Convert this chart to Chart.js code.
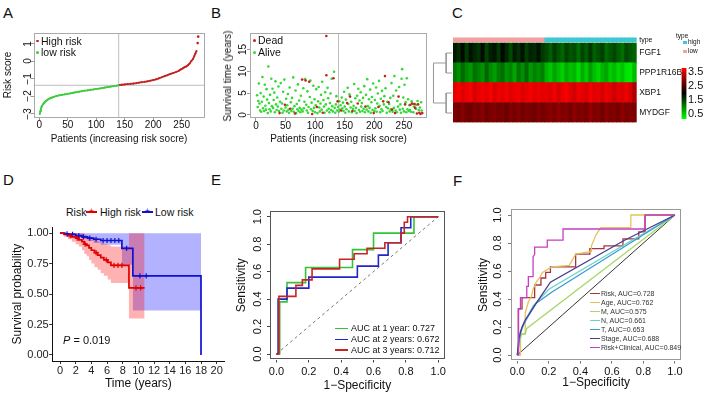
<!DOCTYPE html>
<html>
<head>
<meta charset="utf-8">
<script src="https://cdn.jsdelivr.net/npm/chart.js@4.4.1/dist/chart.umd.min.js"></script>
<style>
html,body{margin:0;padding:0;background:#fff;}
body{width:706px;height:395px;position:relative;overflow:hidden;font-family:"Liberation Sans",Arial,Helvetica,sans-serif;color:#111;}
.box{position:absolute;}
.t{position:absolute;white-space:nowrap;}
.sw{position:absolute;}
</style>
</head>
<body>
<script>
// ======================= DATA =======================
const lowRiskPatients = [1,2,3,4,5,7,9,11,13,16,19,22,25,30,35,40,45,50,55,60,65,70,75,80,85,90,95,100,105,110,115,120,125,130,135,139];
const lowRiskScores = [-3.02,-2.85,-2.72,-2.62,-2.55,-2.45,-2.37,-2.30,-2.24,-2.17,-2.12,-2.08,-2.04,-1.99,-1.95,-1.92,-1.89,-1.86,-1.83,-1.80,-1.77,-1.74,-1.71,-1.68,-1.66,-1.63,-1.61,-1.58,-1.56,-1.53,-1.50,-1.47,-1.45,-1.42,-1.40,-1.37];
const highRiskPatients = [140,145,150,155,160,165,170,175,180,185,190,195,200,205,210,215,220,225,230,235,240,245,248,252,255,258,261,264,267,270,272,274,276];
const highRiskScores = [-1.36,-1.34,-1.32,-1.30,-1.29,-1.27,-1.25,-1.22,-1.19,-1.17,-1.14,-1.11,-1.07,-1.03,-0.97,-0.91,-0.85,-0.79,-0.72,-0.67,-0.61,-0.54,-0.47,-0.40,-0.33,-0.29,-0.22,-0.12,0.02,0.15,0.30,0.45,0.60];
const highRiskTailPatients = [278,279];
const highRiskTailScores = [1.05,1.42];
const riskCutoffPatient = 139.5;
const riskCutoffScore = -1.37;
const patientTicks = [0,50,100,150,200,250];
const riskScoreTicks = [-3,-2,-1,0,1];

const alivePoints = [
[2,4.5],[3,1.8],[4,3.2],[5,7.2],[6,2.6],[7,1.0],[8,5.0],[9,0.7],[10,3.0],
[11,8.7],[12,1.5],[13,4.2],[14,0.9],[15,6.9],[16,2.1],[17,1.2],[18,5.9],[19,3.5],[20,0.4],
[21,11.1],[22,2.7],[23,1.3],[24,4.6],[25,0.8],[26,8.3],[27,2.0],[28,6.0],[29,1.6],[30,3.4],
[31,5.1],[32,0.6],[33,7.7],[34,2.4],[35,1.1],[36,4.0],[37,1.9],[38,6.5],[39,0.9],[41,3.0],
[42,7.3],[43,1.4],[44,2.6],[45,0.5],[46,5.3],[47,1.0],[48,8.1],[50,1.7],
[51,3.7],[52,0.8],[53,2.2],[54,4.8],[55,1.2],[56,0.5],[57,6.3],[59,2.9],[60,0.9],
[61,3.9],[62,1.4],[63,8.6],[64,0.7],[65,2.0],[67,5.6],[68,0.4],[69,2.5],[70,1.3],
[71,7.0],[72,0.9],[73,3.3],[74,1.6],[75,0.6],[76,4.4],[77,1.2],[79,0.8],[80,6.1],
[81,1.5],[82,3.0],[83,8.2],[85,2.3],[86,1.0],[87,5.4],[88,0.5],[89,1.8],[91,4.1],
[92,7.9],[93,1.3],[94,2.8],[96,0.9],[97,6.7],[98,1.6],[99,3.6],[100,0.6],
[101,2.2],[102,5.9],[104,0.4],[105,3.1],[106,6.4],[107,1.7],[108,0.8],[109,2.6],[110,4.6],
[111,1.2],[112,7.6],[114,3.4],[115,1.9],[116,0.5],[117,5.2],[118,2.4],[120,1.0],
[121,6.2],[122,3.8],[123,1.4],[124,0.6],[125,2.7],[126,4.9],[127,1.1],[128,8.3],[129,2.0],[130,0.8],
[132,9.9],[133,1.6],[134,0.5],[135,2.4],[136,4.3],[137,1.0],[139,1.8],[140,0.7],
[141,3.1],[142,1.2],[143,2.2],[145,4.0],[146,1.5],[147,2.8],[148,0.9],[149,5.3],[150,1.9],
[151,0.5],[152,3.5],[153,1.3],[155,6.2],[156,2.5],[157,0.8],[158,4.7],[160,1.7],
[161,3.0],[162,0.6],[164,1.4],[165,2.1],[166,7.1],[167,0.9],[168,3.8],[169,1.6],[170,0.4],
[171,4.4],[173,6.0],[174,1.1],[175,3.3],[176,0.7],[177,5.2],[178,1.9],[179,2.7],[180,0.9],
[181,3.9],[182,1.4],[183,6.6],[184,0.6],[186,4.6],[187,1.2],[188,8.2],[189,2.0],[190,0.8],
[191,3.6],[192,1.6],[193,5.8],[194,0.5],[195,2.9],[196,4.1],[197,1.1],[198,7.2],[200,0.9],
[201,3.4],[202,1.5],[203,6.3],[204,0.7],[205,2.6],[206,4.9],[208,7.8],[209,2.1],[210,0.6],
[211,3.7],[212,1.3],[213,5.5],[214,0.9],[216,2.4],[217,4.3],[219,6.1],[220,1.8],
[221,0.5],[222,3.0],[223,1.5],[225,2.5],[226,0.8],[227,3.9],[228,1.3],[229,7.3],
[231,0.7],[232,4.4],[233,1.6],[234,8.9],[236,1.0],[237,5.6],[238,0.6],[239,3.2],[240,1.9],
[242,6.4],[243,1.2],[244,2.4],[245,0.5],[246,8.3],[247,10.5],[248,1.4],[249,4.0],[250,0.8],
[251,6.9],[253,2.9],[254,0.6],[255,8.4],[256,1.3],[257,3.6],[258,0.9],[259,2.2],[260,1.1],
[262,0.7],[263,3.1],[265,2.5],[266,0.6],[267,1.9],[270,1.4],
[271,2.3],[273,3.2],[275,1.1],[277,1.7],[279,2.9],[280,1.0]
];
const deadPoints = [[40,0.4],[49,2.3],[58,1.4],[66,0.3],[78,8.1],[84,7.9],[90,7.6],[95,0.2],[103,1.8],[113,0.5],[119,9.1],[119,18.1],[131,8.4],[138,3.1],[144,1.0],[154,2.7],[159,4.2],[163,0.9],[172,2.6],[185,1.9],[199,0.4],[207,1.8],[215,3.1],[218,8.9],[224,2.9],[230,1.2],[235,0.4],[241,4.2],[252,2.4],[261,2.3],[264,2.6],[268,2.5],[269,1.6],[272,0.3],[274,2.4],[276,0.5],[278,0.2],[281,0.4]];
const survTimeTicks = [0,5,10,15];

const sampleGroups = ['low','low','low','low','low','low','low','low','low','low','low','low','low','low','low','low','low','low','low','low','low','low','low',
                      'high','high','high','high','high','high','high','high','high','high','high','high','high','high','high','high','high','high','high','high','high','high','high'];
const heatFGF1 = [1.80,1.65,1.90,1.55,1.85,1.70,1.60,1.88,1.50,1.75,1.82,1.58,1.92,1.68,1.45,1.78,1.62,1.86,1.52,1.72,1.66,1.84,1.56,
                  1.45,1.30,1.55,1.38,1.25,1.50,1.35,1.42,1.20,1.48,1.32,1.58,1.28,1.40,1.52,1.22,1.36,1.46,1.30,1.18,1.44,1.34,1.26];
const heatPPP1R16B = [1.10,0.95,1.20,1.00,0.88,1.15,1.05,0.92,1.25,0.98,0.85,1.08,1.18,0.90,1.02,0.80,1.12,0.96,1.22,0.87,1.04,0.93,1.06,
                      0.70,0.55,0.80,0.62,0.48,0.75,0.58,0.66,0.40,0.72,0.52,0.85,0.60,0.45,0.68,0.78,0.50,0.64,0.42,0.57,0.35,0.30,0.62];
const heatXBP1 = [3.60,3.70,3.55,3.65,3.72,3.50,3.62,3.68,3.58,3.74,3.52,3.66,3.60,3.70,3.56,3.64,3.69,3.54,3.62,3.71,3.58,3.66,3.60,
                  3.62,3.55,3.68,3.50,3.64,3.72,3.58,3.45,3.66,3.60,3.52,3.70,3.56,3.62,3.48,3.65,3.58,3.42,3.60,3.54,3.66,3.50,3.20];
const heatMYDGF = [2.85,2.78,2.92,2.80,2.74,2.88,2.82,2.95,2.76,2.86,2.90,2.79,2.84,2.72,2.89,2.81,2.93,2.77,2.87,2.83,2.75,2.91,2.80,
                   2.88,2.95,2.82,3.00,2.86,2.92,2.78,2.98,2.84,2.90,2.80,3.02,2.87,2.93,2.76,2.96,2.85,2.89,2.81,2.97,2.83,2.91,2.86];
const heatRowNames = ['MYDGF','XBP1','PPP1R16B','FGF1','type'];
const heatKeyTicks = [0.5,1.5,2.5,3.5];
const heatMin = 0.143, heatMax = 3.786;
const dendroMergeHeights = [0.3, 0.3, 0.95];

const kmHighTime  = [0,0.5,1.0,1.5,2.0,2.4,2.8,3.1,3.4,3.7,4.0,4.4,4.8,5.2,5.6,6.1,6.5,8.8,10.8];
const kmHighSurv  = [1,0.99,0.98,0.97,0.96,0.945,0.93,0.91,0.90,0.88,0.86,0.84,0.82,0.80,0.78,0.76,0.735,0.55,0.55];
const kmHighLower = [1,0.97,0.95,0.93,0.91,0.89,0.86,0.83,0.81,0.78,0.75,0.72,0.70,0.67,0.65,0.62,0.59,0.30,0.30];
const kmHighUpper = [1,1,1,1,1,1,1,0.99,0.98,0.97,0.96,0.95,0.93,0.92,0.91,0.90,0.89,1.0,1.0];
const kmHighCensor = [1.3,2.2,3.2,4.6,5.9,6.9,7.4,7.9,9.7,10.3];
const kmLowTime  = [0,0.6,1.2,2.0,2.8,3.5,4.3,5.2,7.9,9.3,18.0];
const kmLowSurv  = [1,0.995,0.99,0.98,0.97,0.96,0.95,0.94,0.875,0.65,0.0];
const kmLowLower = [1,0.99,0.98,0.965,0.95,0.935,0.92,0.905,0.74,0.365,0.365];
const kmLowUpper = [1,1,1,1,1,1,1,1,1,1,1];
const kmLowCensor = [0.9,1.6,2.4,3.0,3.8,4.6,5.5,6.0,6.5,7.0,7.5,8.5,10.2,11.0];
const kmTimeTicks = [0,2,4,6,8,10,12,14,16,18,20];
const kmSurvTicks = [0,0.25,0.5,0.75,1];

const rocE1x = [0,0.02,0.02,0.065,0.065,0.18,0.18,0.47,0.47,0.60,0.60,0.85,0.85,1];
const rocE1y = [0,0,0.38,0.38,0.52,0.52,0.63,0.63,0.76,0.76,0.88,0.88,1,1];
const rocE2x = [0,0.01,0.01,0.065,0.065,0.2,0.2,0.5,0.5,0.63,0.63,0.69,0.69,0.77,0.77,0.83,0.83,1];
const rocE2y = [0,0,0.40,0.40,0.48,0.48,0.56,0.56,0.64,0.64,0.72,0.72,0.81,0.81,0.92,0.92,1,1];
const rocE3x = [0,0.015,0.015,0.12,0.12,0.16,0.16,0.22,0.22,0.39,0.39,0.48,0.48,0.56,0.56,0.67,0.67,0.77,0.77,0.79,0.79,0.81,0.81,1];
const rocE3y = [0,0,0.42,0.42,0.5,0.5,0.54,0.54,0.62,0.62,0.69,0.69,0.73,0.73,0.77,0.77,0.81,0.81,0.88,0.88,0.96,0.96,1,1];
const rocELabels = ['AUC at 1 year: 0.727','AUC at 2 years: 0.672','AUC at 3 years: 0.712'];
const rocTicks = [0,0.2,0.4,0.6,0.8,1];

const rocRiskX = [0,0.006,0.006,0.03,0.03,0.11,0.11,0.15,0.15,0.18,0.18,0.21,0.21,0.37,0.37,0.46,0.46,0.55,0.55,0.67,0.67,0.77,0.77,0.81,0.81,1];
const rocRiskY = [0,0,0.33,0.33,0.41,0.41,0.5,0.5,0.55,0.55,0.59,0.59,0.63,0.63,0.72,0.72,0.76,0.76,0.78,0.78,0.83,0.83,0.88,0.88,1,1];
const rocAgeX = [0,0.02,0.02,0.05,0.05,0.07,0.09,0.1,0.12,0.14,0.16,0.19,0.22,0.33,0.37,0.47,0.47,0.5,0.53,0.72,0.72,1];
const rocAgeY = [0,0,0.15,0.15,0.3,0.38,0.42,0.47,0.52,0.55,0.59,0.61,0.63,0.64,0.72,0.74,0.78,0.86,0.91,0.91,1,1];
const rocMX = [0,0.02,0.03,0.05,0.06,1];
const rocMY = [0,0.12,0.15,0.15,0.19,1];
const rocNX = [0,0.02,0.04,0.1,0.2,1];
const rocNY = [0,0.15,0.22,0.35,0.47,1];
const rocTX = [0,0.02,0.05,0.12,0.22,1];
const rocTY = [0,0.17,0.24,0.37,0.45,1];
const rocStageX = [0,0.01,0.03,0.05,0.12,0.21,0.68,1];
const rocStageY = [0,0.12,0.2,0.25,0.37,0.52,0.82,1];
const rocComboX = [0,0.008,0.008,0.02,0.02,0.06,0.06,0.07,0.07,0.1,0.1,0.11,0.11,0.19,0.19,0.29,0.29,0.81,0.81,1];
const rocComboY = [0,0,0.33,0.33,0.41,0.41,0.49,0.49,0.56,0.56,0.7,0.72,0.77,0.77,0.82,0.82,0.9,0.9,1,1];
const rocFLabels = ['Risk, AUC=0.728','Age, AUC=0.762','M, AUC=0.575','N, AUC=0.661','T, AUC=0.653','Stage, AUC=0.688','Risk+Clinical, AUC=0.849'];

// ======================= STYLE / HELPERS =======================
const FONT = "'Liberation Sans', Arial, Helvetica, sans-serif";
Chart.defaults.font.family = FONT;
Chart.defaults.color = '#111';
Chart.defaults.animation = false;

const RED_A = '#C42222', GREEN_A = '#3CCB3C';
const RED_B = '#C42222', GREEN_B = '#35D835';
const PINK = '#F2A0A0', CYAN = '#3DC8D3';
const E_COLS = ['#35C435','#2424C8','#C82424'];
const F_COLS = ['#A8343F','#E2C45A','#A8D86C','#6AD3CB','#3C9CD0','#4B3C8E','#C43FC4'];

const zipXY = (xs, ys) => xs.map((x, i) => ({x, y: ys[i]}));
const pairsXY = ps => ps.map(p => ({x: p[0], y: p[1]}));
const survAt = (ts, ss, t) => { let v = ss[0]; for (let i = 0; i < ts.length; i++) if (ts[i] <= t) v = ss[i]; return v; };
const minus = v => String(v).replace('-', '\u2212');

function makeBox(rect, area, opt = {}) {
  const wrap = document.createElement('div');
  wrap.className = 'box';
  wrap.style.cssText = `left:${rect.l}px;top:${rect.t}px;width:${rect.w}px;height:${rect.h}px;`;
  const cv = document.createElement('canvas');
  cv.width = rect.w; cv.height = rect.h;
  cv.style.cssText = `width:${rect.w}px;height:${rect.h}px;display:block;`;
  wrap.appendChild(cv); document.body.appendChild(wrap);
  const R = rect.l + rect.w, B = rect.t + rect.h;
  const p = {canvas: cv, rect};
  if (opt.yRight) { p.padding = {left: area.l - rect.l, right: 0, top: area.t - rect.t, bottom: 0}; p.yW = R - area.r; }
  else if (opt.noY) { p.padding = {left: area.l - rect.l, right: R - area.r, top: area.t - rect.t, bottom: 0}; }
  else { p.padding = {left: 0, right: R - area.r, top: area.t - rect.t, bottom: 0}; p.yW = area.l - rect.l; }
  if (opt.noX) p.padding.bottom = B - area.b; else p.xH = B - area.b;
  return p;
}
function baseOpts(p, extraPlugins) {
  return {responsive: false, devicePixelRatio: 1, animation: false, events: [],
    layout: {padding: p.padding, autoPadding: false},
    plugins: Object.assign({legend: {display: false}, tooltip: {enabled: false}}, extraPlugins || {}),
    elements: {point: {radius: 0}, line: {tension: 0}}};
}
function linAxis(p, axis, c) {
  const horiz = axis === 'x';
  return {
    type: 'linear', position: horiz ? 'bottom' : 'left', min: c.min, max: c.max,
    afterBuildTicks: s => { s.ticks = c.ticks.map(v => ({value: v})); },
    afterFit: s => { if (horiz) s.height = p.xH; else s.width = p.yW; },
    grid: {drawOnChartArea: false, drawTicks: true, tickLength: 3, color: c.tickColor || '#555', lineWidth: 1},
    border: c.border ? {display: true, color: c.border, width: 1} : {display: false},
    ticks: {autoSkip: false, font: {size: c.size}, color: c.color || '#111', padding: c.pad,
      minRotation: c.rot || 0, maxRotation: c.rot || 0, crossAlign: c.rot ? 'center' : 'near',
      callback: c.fmt || (v => String(v))},
    title: c.title ? {display: true, text: c.title, font: {size: c.titleSize}, padding: 0, color: '#111'} : {display: false}
  };
}
const boxPlugin = {
  id: 'rbox',
  afterDatasetsDraw(chart, args, opts) {
    const a = chart.chartArea, ctx = chart.ctx;
    ctx.save(); ctx.strokeStyle = opts.color || '#888'; ctx.lineWidth = 1;
    ctx.strokeRect(Math.round(a.left) + 0.5, Math.round(a.top) + 0.5, Math.round(a.right - a.left) - 1, Math.round(a.bottom - a.top) - 1);
    ctx.restore();
  }
};
function label(text, x, cy, size, o = {}) {
  const d = document.createElement('div');
  d.className = 't';
  d.style.fontSize = size + 'px';
  d.style.lineHeight = size + 'px';
  d.style.left = x + 'px';
  if (o.rot) { d.style.top = cy + 'px'; d.style.transform = 'translate(-50%,-50%) rotate(-90deg)'; }
  else {
    d.style.top = (cy - size / 2) + 'px';
    if (o.align === 'center') d.style.transform = 'translateX(-50%)';
    if (o.align === 'right') d.style.transform = 'translateX(-100%)';
  }
  if (o.color) d.style.color = o.color;
  if (o.html) d.innerHTML = text; else d.textContent = text;
  if (o.z) d.style.zIndex = o.z;
  document.body.appendChild(d);
  return d;
}
function swatch(x, y, w, h, color, radius) {
  const d = document.createElement('div');
  d.className = 'sw';
  d.style.cssText = `left:${x}px;top:${y}px;width:${w}px;height:${h}px;background:${color};` + (radius ? `border-radius:${radius}px;` : '');
  document.body.appendChild(d);
}

// ======================= PANEL A =======================
const A_X = [-10, 290], A_Y = [-3.22, 1.63];
const pA = makeBox({l: 2, t: 25, w: 210, h: 120}, {l: 33.5, r: 204.5, t: 33, b: 117.5});
const chA = new Chart(pA.canvas, {
  type: 'scatter',
  data: {datasets: [
    {data: zipXY(lowRiskPatients, lowRiskScores), showLine: true, borderColor: GREEN_A, backgroundColor: GREEN_A, borderWidth: 1.8, pointRadius: 1, pointBorderWidth: 0},
    {data: zipXY(highRiskPatients, highRiskScores), showLine: true, borderColor: RED_A, backgroundColor: RED_A, borderWidth: 1.8, pointRadius: 1, pointBorderWidth: 0},
    {data: zipXY(highRiskTailPatients, highRiskTailScores), backgroundColor: RED_A, pointRadius: 1.3, pointBorderWidth: 0},
    {data: [{x: A_X[0], y: riskCutoffScore}, {x: A_X[1], y: riskCutoffScore}], showLine: true, borderColor: '#bdbdbd', borderWidth: 1, pointRadius: 0},
    {data: [{x: riskCutoffPatient, y: A_Y[0]}, {x: riskCutoffPatient, y: A_Y[1]}], showLine: true, borderColor: '#bdbdbd', borderWidth: 1, pointRadius: 0}
  ]},
  options: Object.assign(baseOpts(pA, {rbox: {color: '#aaa'}}), {
    scales: {
      x: linAxis(pA, 'x', {min: A_X[0], max: A_X[1], ticks: patientTicks, size: 10, pad: -1, tickColor: '#999', title: 'Patients (increasing risk socre)', titleSize: 10}),
      y: linAxis(pA, 'y', {min: A_Y[0], max: A_Y[1], ticks: riskScoreTicks, size: 10, pad: -1.5, rot: 90, tickColor: '#999', color: 'rgba(0,0,0,0)', fmt: minus})
    }
  }),
  plugins: [boxPlugin]
});

// ======================= PANEL B =======================
const B_X = [-10, 289], B_Y = [-0.72, 18.8];
const pB = makeBox({l: 221, t: 25, w: 215, h: 120}, {l: 250, r: 427, t: 33, b: 118});
new Chart(pB.canvas, {
  type: 'scatter',
  data: {datasets: [
    {data: pairsXY(deadPoints), backgroundColor: RED_B, pointRadius: 1.3, pointBorderWidth: 0},
    {data: pairsXY(alivePoints), backgroundColor: GREEN_B, pointRadius: 1.3, pointBorderWidth: 0},
    {data: [{x: riskCutoffPatient, y: B_Y[0]}, {x: riskCutoffPatient, y: B_Y[1]}], showLine: true, borderColor: '#bdbdbd', borderWidth: 1, pointRadius: 0}
  ]},
  options: Object.assign(baseOpts(pB, {rbox: {color: '#aaa'}}), {
    scales: {
      x: linAxis(pB, 'x', {min: B_X[0], max: B_X[1], ticks: patientTicks, size: 10, pad: -1, tickColor: '#999', title: 'Patients (increasing risk socre)', titleSize: 10}),
      y: linAxis(pB, 'y', {min: B_Y[0], max: B_Y[1], ticks: survTimeTicks, size: 10, pad: -1.5, rot: 90, tickColor: '#999'})
    }
  }),
  plugins: [boxPlugin]
});

// ======================= PANEL C =======================
function heatColor(v) {
  const t = Math.max(0, Math.min(1, (v - heatMin) / (heatMax - heatMin)));
  if (t < 0.5) return `rgb(0,${Math.round(255 * (1 - t / 0.5))},0)`;
  return `rgb(${Math.round(255 * ((t - 0.5) / 0.5))},0,0)`;
}
const HEAT_TOP = 4.28;
const heatRowsBottomUp = [heatMYDGF, heatXBP1, heatPPP1R16B, heatFGF1];
const heatTickPos = [0.5, 1.5, 2.5, 3.5, 4.165];
const pC = makeBox({l: 453, t: 30, w: 240, h: 100}, {l: 453, r: 636.7, t: 37.4, b: 123}, {yRight: true, noX: true});
const barCommon = {barPercentage: 1, categoryPercentage: 1, grouped: false, borderWidth: 0};
new Chart(pC.canvas, {
  type: 'bar',
  data: {
    labels: sampleGroups.map((g, i) => g + (i + 1)),
    datasets: heatRowsBottomUp.map((vals, k) => Object.assign({
      data: vals.map(() => [k, k + 1]), backgroundColor: vals.map(heatColor)
    }, barCommon)).concat([Object.assign({
      data: sampleGroups.map(() => [4.05, HEAT_TOP]), backgroundColor: sampleGroups.map(g => g === 'high' ? CYAN : PINK)
    }, barCommon)])
  },
  options: Object.assign(baseOpts(pC), {
    scales: {
      x: {type: 'category', display: false},
      y: {type: 'linear', position: 'right', min: 0, max: HEAT_TOP,
        afterBuildTicks: s => { s.ticks = heatTickPos.map(v => ({value: v})); },
        afterFit: s => { s.width = pC.yW; },
        grid: {display: false, drawTicks: false}, border: {display: false},
        ticks: {autoSkip: false, padding: 2.5, color: '#111', font: c => ({size: c.index === 4 ? 7 : 8.5}),
          callback: (v, i) => heatRowNames[i]}}
    }
  })
});
const pDen = makeBox({l: 428, t: 30, w: 26, h: 100}, {l: 432.5, r: 452, t: 37.4, b: 123}, {noY: true, noX: true});
const [hTop, hBot, hRoot] = dendroMergeHeights;
new Chart(pDen.canvas, {
  type: 'line',
  data: {datasets: [
    {data: [{x: 0, y: 3.5}, {x: hTop, y: 3.5}, {x: hTop, y: 2.5}, {x: 0, y: 2.5}]},
    {data: [{x: 0, y: 1.5}, {x: hBot, y: 1.5}, {x: hBot, y: 0.5}, {x: 0, y: 0.5}]},
    {data: [{x: hTop, y: 3.0}, {x: hRoot, y: 3.0}, {x: hRoot, y: 1.0}, {x: hBot, y: 1.0}]}
  ].map(d => Object.assign(d, {borderColor: '#9a9a9a', borderWidth: 1, pointRadius: 0}))},
  options: Object.assign(baseOpts(pDen), {
    scales: {x: {type: 'linear', display: false, min: 0, max: 1, reverse: true}, y: {type: 'linear', display: false, min: 0, max: HEAT_TOP}}
  })
});
const pKey = makeBox({l: 676, t: 58, w: 30, h: 70}, {l: 681.5, r: 686.5, t: 68, b: 119}, {yRight: true, noX: true});
new Chart(pKey.canvas, {
  type: 'bar',
  data: {labels: ['key'], datasets: [{data: [[heatMin, heatMax]], barPercentage: 1, categoryPercentage: 1, borderWidth: 0,
    backgroundColor: c => {
      const ch = c.chart; if (!ch.chartArea) return '#000';
      const y = ch.scales.y;
      const g = ch.ctx.createLinearGradient(0, y.getPixelForValue(heatMin), 0, y.getPixelForValue(heatMax));
      g.addColorStop(0, '#00FF00'); g.addColorStop(0.5, '#000000'); g.addColorStop(1, '#FF0000');
      return g;
    }}]},
  options: Object.assign(baseOpts(pKey), {
    scales: {
      x: {type: 'category', display: false},
      y: {type: 'linear', position: 'right', min: heatMin, max: heatMax,
        afterBuildTicks: s => { s.ticks = heatKeyTicks.map(v => ({value: v})); },
        afterFit: s => { s.width = pKey.yW; },
        grid: {display: false, drawTicks: false}, border: {display: false},
        ticks: {autoSkip: false, padding: 1.5, color: '#111', font: {size: 11}, callback: v => v.toFixed(1)}}
    }
  })
});

// ======================= PANEL D =======================
const D_X = [-1, 21], D_Y = [-0.05, 1.05];
const pD = makeBox({l: 10, t: 220, w: 220, h: 171}, {l: 52.2, r: 224.5, t: 226, b: 361});
const stepOpts = {stepped: 'before', pointRadius: 0};
new Chart(pD.canvas, {
  type: 'line',
  data: {datasets: [
    {data: kmHighCensor.map(t => ({x: t, y: survAt(kmHighTime, kmHighSurv, t)})), showLine: false, pointStyle: 'cross', pointRadius: 2.6, pointBorderColor: '#E00000', pointBorderWidth: 1.2},
    {data: kmLowCensor.map(t => ({x: t, y: survAt(kmLowTime, kmLowSurv, t)})), showLine: false, pointStyle: 'cross', pointRadius: 2.6, pointBorderColor: '#1010D0', pointBorderWidth: 1.2},
    Object.assign({data: zipXY(kmHighTime, kmHighSurv), borderColor: '#E00000', borderWidth: 1.7}, stepOpts),
    Object.assign({data: zipXY(kmLowTime, kmLowSurv), borderColor: '#1010D0', borderWidth: 1.7}, stepOpts),
    Object.assign({data: zipXY(kmHighTime, kmHighUpper), borderColor: 'transparent', borderWidth: 0, fill: false}, stepOpts),
    Object.assign({data: zipXY(kmHighTime, kmHighLower), borderColor: 'transparent', borderWidth: 0, fill: '-1', backgroundColor: 'rgba(255,0,0,0.3)'}, stepOpts),
    Object.assign({data: zipXY(kmLowTime, kmLowUpper), borderColor: 'transparent', borderWidth: 0, fill: false}, stepOpts),
    Object.assign({data: zipXY(kmLowTime, kmLowLower), borderColor: 'transparent', borderWidth: 0, fill: '-1', backgroundColor: 'rgba(0,0,255,0.3)'}, stepOpts)
  ]},
  options: Object.assign(baseOpts(pD), {
    scales: {
      x: linAxis(pD, 'x', {min: D_X[0], max: D_X[1], ticks: kmTimeTicks, size: 11, pad: 0, tickColor: '#333', border: '#111', color: '#222', title: 'Time (years)', titleSize: 12}),
      y: linAxis(pD, 'y', {min: D_Y[0], max: D_Y[1], ticks: kmSurvTicks, size: 11, pad: 0.5, tickColor: '#333', border: '#111', color: '#222', fmt: v => v.toFixed(2), title: 'Survival probability', titleSize: 12})
    }
  })
});

// ======================= PANEL E =======================
const ROC_R = [-0.04, 1.04];
const pE = makeBox({l: 234, t: 200, w: 215, h: 193}, {l: 270, r: 446, t: 211.2, b: 359.5});
new Chart(pE.canvas, {
  type: 'line',
  data: {datasets: [
    {data: zipXY(rocE3x, rocE3y), borderColor: E_COLS[2], borderWidth: 1.6},
    {data: zipXY(rocE2x, rocE2y), borderColor: E_COLS[1], borderWidth: 1.6},
    {data: zipXY(rocE1x, rocE1y), borderColor: E_COLS[0], borderWidth: 1.6},
    {data: [{x: 0, y: 0}, {x: 1, y: 1}], borderColor: '#777', borderWidth: 1, borderDash: [3, 3]}
  ]},
  options: Object.assign(baseOpts(pE, {rbox: {color: '#555'}}), {
    scales: {
      x: linAxis(pE, 'x', {min: ROC_R[0], max: ROC_R[1], ticks: rocTicks, size: 11, pad: 3, tickColor: '#444', fmt: v => v.toFixed(1), title: '1\u2212Specificity', titleSize: 12}),
      y: linAxis(pE, 'y', {min: ROC_R[0], max: ROC_R[1], ticks: rocTicks, size: 11, pad: 1.4, rot: 90, tickColor: '#444', fmt: v => v.toFixed(1), title: 'Sensitivity', titleSize: 12})
    }
  }),
  plugins: [boxPlugin]
});

// ======================= PANEL F =======================
const pF = makeBox({l: 476, t: 200, w: 228, h: 190}, {l: 511, r: 681.3, t: 209.4, b: 360.6});
const fSeries = [[rocRiskX, rocRiskY], [rocAgeX, rocAgeY], [rocMX, rocMY], [rocNX, rocNY], [rocTX, rocTY], [rocStageX, rocStageY], [rocComboX, rocComboY]];
new Chart(pF.canvas, {
  type: 'line',
  data: {datasets: fSeries.map((s, i) => ({data: zipXY(s[0], s[1]), borderColor: F_COLS[i], borderWidth: 1.3})).reverse()
    .concat([{data: [{x: 0, y: 0}, {x: 1, y: 1}], borderColor: '#333', borderWidth: 1}])},
  options: Object.assign(baseOpts(pF, {rbox: {color: '#999'}}), {
    scales: {
      x: linAxis(pF, 'x', {min: ROC_R[0], max: ROC_R[1], ticks: rocTicks, size: 11, pad: 1.5, tickColor: '#777', fmt: v => v.toFixed(1), title: '1\u2212Specificity', titleSize: 12}),
      y: linAxis(pF, 'y', {min: ROC_R[0], max: ROC_R[1], ticks: rocTicks, size: 11, pad: 2.4, rot: 90, tickColor: '#777', fmt: v => v.toFixed(1), title: 'Sensitivity', titleSize: 12})
    }
  }),
  plugins: [boxPlugin]
});

// ======================= TEXT / LEGENDS =======================
label('A', 3, 12, 15); label('B', 211, 12, 15); label('C', 452, 12, 15);
label('D', 3, 179, 15); label('E', 211, 179, 15); label('F', 453, 180, 15);
label('Risk score', 8, 75, 10, {rot: true});
swatch(36, 39.5, 2.6, 2.6, RED_A, 2); label('High risk', 41, 41, 10.5);
swatch(36, 51, 2.6, 2.6, GREEN_A, 2); label('low risk', 41, 52.5, 10.5);
swatch(253, 39, 2.6, 2.6, RED_B, 2); label('Dead', 258, 40.5, 10.5);
swatch(253, 51, 2.6, 2.6, GREEN_B, 2); label('Alive', 258, 52.5, 10.5);
label('Survival time (years)', 228, 76, 10, {rot: true});
label('type', 676, 36.5, 6.5);
swatch(683, 40.5, 4, 3.5, CYAN); label('high', 688, 42.3, 6.5);
swatch(683, 49.5, 4, 3.5, PINK); label('low', 688, 51.3, 6.5);
label('Risk', 66, 212, 10.5);
swatch(86, 211, 11, 1.8, '#E00000'); label('+', 91.5, 211.6, 9, {align: 'center', color: '#E00000'}); label('High risk', 100, 212, 10.5);
swatch(142, 211, 11, 1.8, '#1010D0'); label('+', 147.5, 211.6, 9, {align: 'center', color: '#1010D0'}); label('Low risk', 155, 212, 10.5);
label('<i>P</i> = 0.019', 63, 340, 11, {html: true});
[328.5, 339.3, 350].forEach((y, i) => { swatch(335, y - 0.8, 13, 1.6, E_COLS[i]); label(rocELabels[i], 351, y, 9); });
rocFLabels.forEach((t, i) => { const y = 293.3 + i * 9.07; swatch(590, y - 0.6, 10, 1.3, F_COLS[i]); label(t, 601, y, 7, {color: '#333'}); });

const yScaleA = chA.scales.y;
yScaleA.ticks.forEach(t => {
  label(t.label, pA.rect.l + 25.5, pA.rect.t + yScaleA.getPixelForValue(t.value), 10, {rot: true, z: 5});
});
</script>
</body>
</html>
